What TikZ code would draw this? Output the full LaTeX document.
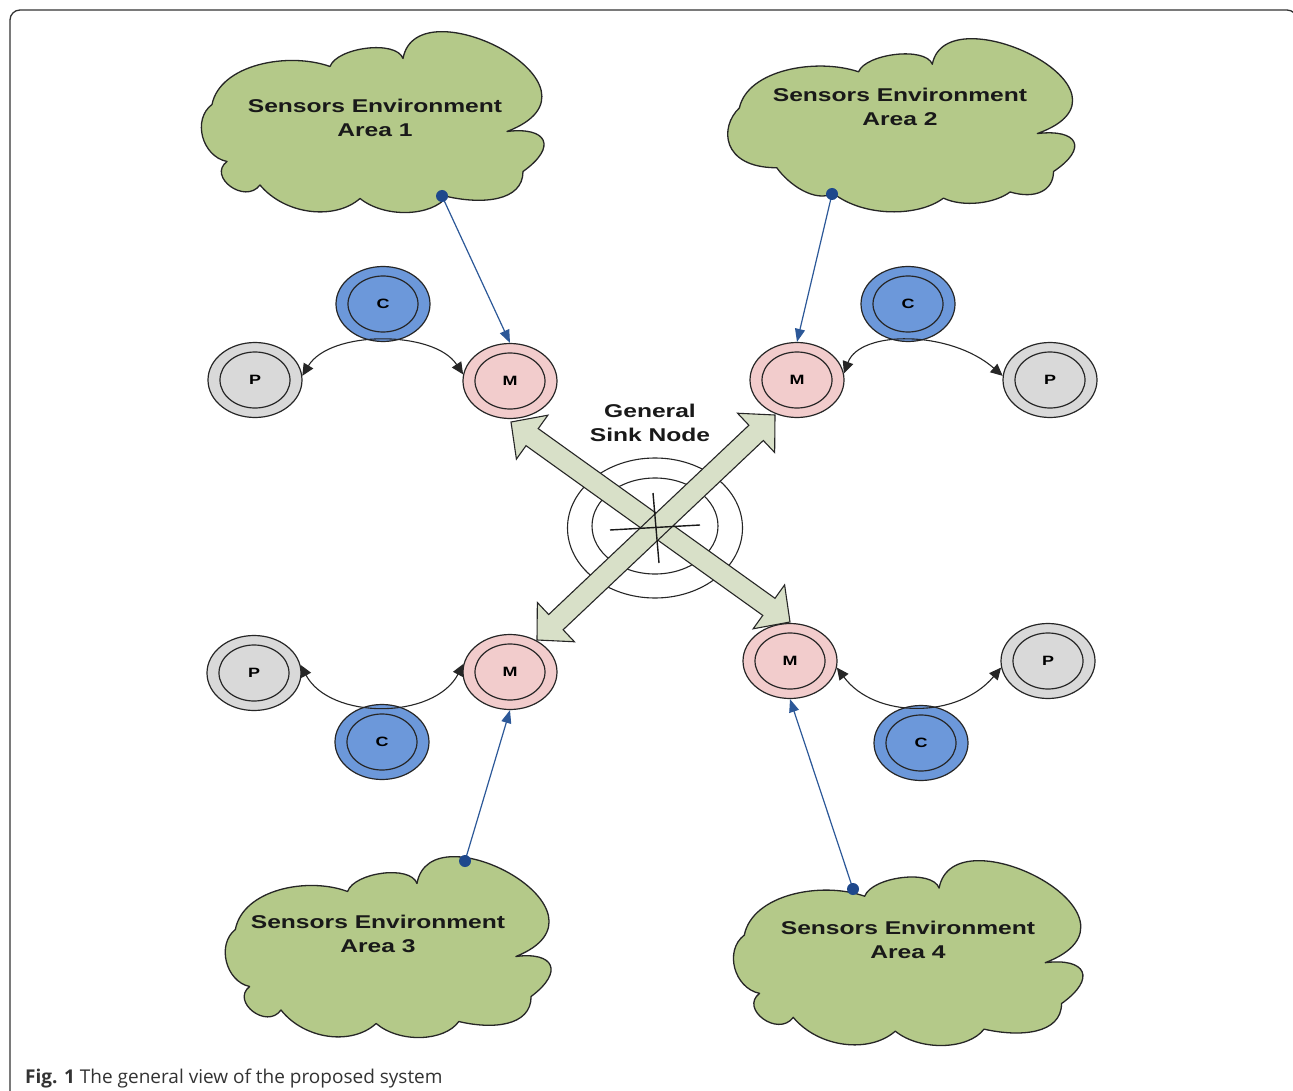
\documentclass[tikz,border=0pt]{standalone}
\usepackage{fontspec}
\setmainfont{Liberation Sans}
\newfontfamily\capfont{Open Sans}
\usetikzlibrary{shapes.geometric,calc,arrows.meta}
\definecolor{cloudgreen}{RGB}{180,201,137}
\definecolor{mpink}{RGB}{242,204,204}
\definecolor{cblue}{RGB}{108,152,218}
\definecolor{pgray}{RGB}{217,217,217}
\definecolor{arrowgreen}{RGB}{216,224,200}
\definecolor{blueline}{RGB}{44,88,152}
\definecolor{bluedot}{RGB}{30,72,140}
\newcommand\wide[1]{\scalebox{1.33}[1]{#1}}
\newcommand\dblarrow[2]{%
  \coordinate (hA) at ($(#1)!26pt!(#2)$);
  \coordinate (hB) at ($(#2)!26pt!(#1)$);
  \filldraw[bigarrow] (#1) -- ($(hA)!27pt!90:(#2)$) -- ($(hA)!10.5pt!90:(#2)$)
    -- ($(hB)!10.5pt!-90:(#1)$) -- ($(hB)!27pt!-90:(#1)$) -- (#2)
    -- ($(hB)!27pt!90:(#1)$) -- ($(hB)!10.5pt!90:(#1)$)
    -- ($(hA)!10.5pt!-90:(#2)$) -- ($(hA)!27pt!-90:(#2)$) -- cycle;}
\tikzset{
  ring/.style={ellipse, draw=black!85, line width=1.2pt, minimum width=94pt,
    minimum height=75pt, inner sep=0pt,
    font=\bfseries\fontsize{13.5}{13.5}\selectfont,
    path picture={\draw[line width=1.2pt, black!85] (path picture bounding box.center)
      ellipse [x radius=35pt, y radius=28pt];}},
  mnode/.style={ring, fill=mpink},
  cnode/.style={ring, fill=cblue},
  pnode/.style={ring, fill=pgray},
  cloudline/.style={draw=black!85, line width=1.3pt, fill=cloudgreen, line join=round},
  bigtext/.style={font=\bfseries\fontsize{18.5}{24}\selectfont, align=center,
    text=black!90, inner sep=0pt},
  bigarrow/.style={fill=arrowgreen, draw=black!85, line width=1.1pt, line join=miter},
  bluearr/.style={draw=blueline, line width=1.2pt,
    -{Triangle[length=13pt,width=10pt]}},
  curvearr/.style={draw=black!85, line width=1.1pt,
    {Triangle[length=12pt,width=11pt]}-{Triangle[length=12pt,width=11pt]}},
  dot/.style={fill=bluedot},
  cloudA/.pic={\filldraw[cloudline] (-160,18)
      .. controls +(8,40) and +(-42,15) .. (-42,56)
      .. controls +(7,19) and +(-7,19) .. (31,64)
      .. controls +(14,76) and +(115,44) .. (135,-9)
      .. controls +(40,5) and +(35,25) .. (151,-49)
      .. controls +(0,-30) and +(35,-8) .. (75,-74)
      .. controls +(-15,-20) and +(25,-20) .. (-12,-76)
      .. controls +(-25,-22) and +(25,-30) .. (-112,-62.5)
      .. controls +(-15,-20) and +(-20,-15) .. (-145,-39)
      .. controls +(-25,5) and +(-20,-15) .. (-160,18) -- cycle;},
  cloudB/.pic={\filldraw[cloudline] (-160,18)
      .. controls +(8,40) and +(-42,15) .. (-42,56)
      .. controls +(7,19) and +(-7,19) .. (31,64)
      .. controls +(14,76) and +(115,44) .. (135,-9)
      .. controls +(40,5) and +(35,25) .. (151,-49)
      .. controls +(0,-20) and +(25,-8) .. (108,-70.5)
      .. controls +(-15,-12) and +(20,-10) .. (42,-77)
      .. controls +(-25,-20) and +(30,-25) .. (-67,-72)
      .. controls +(-18,-10) and +(12,-18) .. (-123,-45)
      .. controls +(-55,0) and +(-20,-20) .. (-160,18) -- cycle;}
}
\begin{document}
\begin{tikzpicture}[x=1pt,y=1pt]
\useasboundingbox (0,0) rectangle (1293,-1091);
\fill[white] (0,0) rectangle (1293,-1091);
% frame
\draw[line width=1.3pt, black!80, rounded corners=10pt]
  (10,-1120) -- (10,-10) -- (1297,-10) -- (1297,-1120);

% clouds
\pic (cl1) at (372,-122.5) {cloudA};
\pic[xscale=1.01, yscale=0.95] (cl2) at (901,-125) {cloudB};
\pic[xscale=0.951] (cl3) at (387.5,-947.5) {cloudA};
\pic[xscale=1.02, yscale=1.022] (cl4) at (907.5,-953.5) {cloudA};
\node[bigtext] (t1) at (375,-118) {\wide{Sensors Environment}\\\wide{Area 1}};
\node[bigtext] (t2) at (900,-107) {\wide{Sensors Environment}\\\wide{Area 2}};
\node[bigtext] (t3) at (378,-934) {\wide{Sensors Environment}\\\wide{Area 3}};
\node[bigtext] (t4) at (908,-940) {\wide{Sensors Environment}\\\wide{Area 4}};

% sink node
\node[ellipse, draw=black!85, line width=1.1pt, minimum width=175pt, minimum height=140pt, inner sep=0pt] (sinkout) at (655,-528) {};
\node[ellipse, draw=black!85, line width=1.1pt, minimum width=126pt, minimum height=96pt, inner sep=0pt] (sinkin) at (655,-526) {};
\node[bigtext] (sinklabel) at (650,-423) {\wide{General}\\\wide{Sink Node}};

% groups
\node[mnode] (M1) at (510,-381) {\wide{M}};
\node[cnode] (C1) at (383,-304) {\wide{C}};
\node[pnode] (P1) at (255,-380) {\wide{P}};
\node[mnode] (M2) at (797,-380) {\wide{M}};
\node[cnode] (C2) at (908,-304) {\wide{C}};
\node[pnode] (P2) at (1050,-380) {\wide{P}};
\node[mnode] (M3) at (510,-672) {\wide{M}};
\node[cnode] (C3) at (382,-742) {\wide{C}};
\node[pnode] (P3) at (254,-673) {\wide{P}};
\node[mnode] (M4) at (790,-661) {\wide{M}};
\node[cnode] (C4) at (921,-743) {\wide{C}};
\node[pnode] (P4) at (1048,-661) {\wide{P}};

% big arrows
\coordinate (tNW) at (511,-422);
\coordinate (tSE) at (790,-622);
\coordinate (tNE) at (775,-415);
\coordinate (tSW) at (537,-640);
\dblarrow{tNW}{tSE}
\dblarrow{tSW}{tNE}
\coordinate (xa) at (610,-530);
\coordinate (xb) at (700,-525);
\coordinate (ya) at (653,-493);
\coordinate (yb) at (659,-563);
\draw[line width=1.4pt, black!90] (xa) -- (xb);
\draw[line width=1.4pt, black!90] (ya) -- (yb);

% curved arrows
\draw[curvearr] (P1.5) .. controls (330,-330) and (434,-330) .. (M1.172);
\draw[curvearr] (M2.8) .. controls (860,-330) and (950,-330) .. (P2.175);
\draw[curvearr] (P3.10) .. controls (330,-720) and (434,-720) .. (M3.170);
\draw[curvearr] (M4.-8) .. controls (875,-719) and (958,-719) .. (P4.188);

% blue connectors
\coordinate (d1) at (442,-196);
\coordinate (d2) at (832,-194);
\coordinate (d3) at (465,-861);
\coordinate (d4) at (853,-889);
\draw[bluearr] (d1) -- (M1.north);
\draw[bluearr] (d2) -- (M2.north);
\draw[bluearr] (d3) -- (M3.south);
\draw[bluearr] (d4) -- (M4.south);
\fill[dot] (d1) circle (6pt);
\fill[dot] (d2) circle (6pt);
\fill[dot] (d3) circle (6pt);
\fill[dot] (d4) circle (6pt);

% caption
\node[anchor=base west, inner sep=0pt, font=\capfont\fontsize{19}{19}\selectfont, text=black!80] (cap) at (25,-1083) {\textbf{Fig. 1} The general view of the proposed system};
\end{tikzpicture}
\end{document}
